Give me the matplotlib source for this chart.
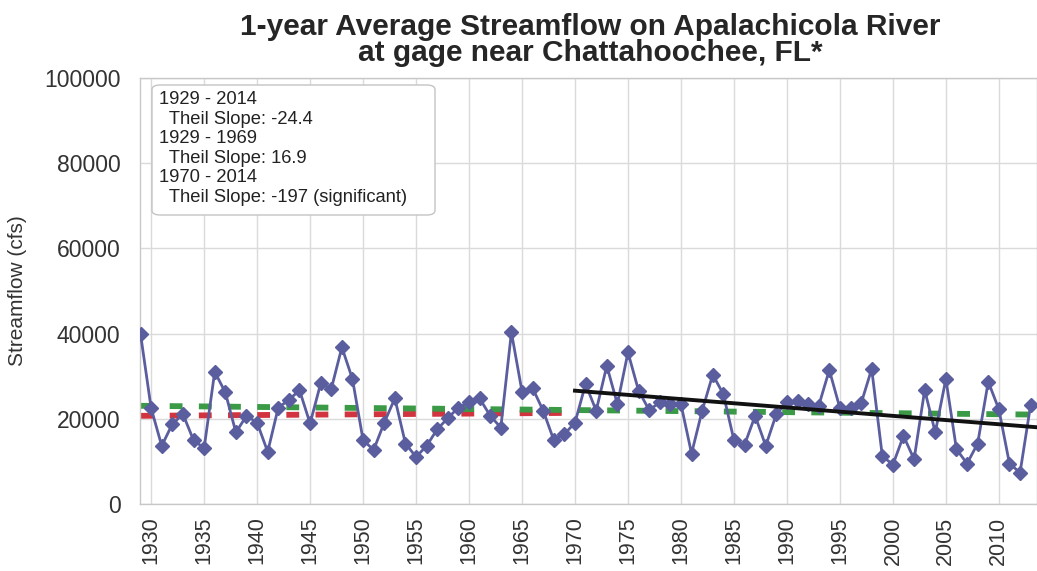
import matplotlib
matplotlib.use("Agg")
import matplotlib.pyplot as plt
from matplotlib.patches import FancyBboxPatch
import numpy as np

plt.rcParams['font.family'] = ['Liberation Sans', 'DejaVu Sans']

# Annual mean streamflow (cfs), 1929-2013
years = list(range(1929, 2014))
flow = [
    39900, 22500, 13650, 18750, 21100, 15000, 13100, 31050, 26200, 16800,
    20700, 19100, 12250, 22650, 24400, 26750, 18900, 28300, 27000, 36800,
    29350, 15000, 12700, 19100, 24800, 14200, 11050, 13650, 17550, 20150,
    22650, 23850, 24800, 20700, 17950, 40300, 26400, 27200, 21900, 15000,
    16400, 19100, 28150, 21900, 32450, 23450, 35600, 26600, 22050, 23850,
    23450, 23450, 11850, 21900, 30350, 25800, 15000, 13900, 20700, 13650,
    21100, 23850, 24250, 23450, 23050, 31450, 22500, 22500, 23600, 31700,
    11300, 9200, 16000, 10500, 26750, 16800, 29350, 12850, 9500, 14200,
    28700, 22250, 9500, 7350, 23300,
]

# Theil-Sen trend lines: (start year, end year, value at start, slope per year)
trend_all = (1929, 2014, 23050, -24.4)
trend_early = (1929, 1969, 20700, 16.9)
trend_late = (1970, 2014, 26600, -197.0)

legend_lines = [
    "1929 - 2014",
    "  Theil Slope: -24.4",
    "1929 - 1969",
    "  Theil Slope: 16.9",
    "1970 - 2014",
    "  Theil Slope: -197 (significant)",
]

title = "1-year Average Streamflow on Apalachicola River\nat gage near Chattahoochee, FL*"
xticks = list(range(1930, 2011, 5))
yticks = list(range(0, 100001, 20000))

W, H = 1037, 571
fig = plt.figure(figsize=(W / 100, H / 100), dpi=100)
ax = fig.add_axes([140 / W, (H - 504) / H, (W - 140) / W, (504 - 78) / H])


def trend_xy(t):
    y0, y1, v0, s = t
    xs = np.array([y0, y1], dtype=float)
    return xs, v0 + s * (xs - y0)


grid_c = '#dadada'
ax.set_xticks(xticks)
ax.set_yticks(yticks)
ax.grid(True, color=grid_c, linewidth=1.0)
ax.set_axisbelow(True)

xs, ys = trend_xy(trend_early)
ax.plot(xs, ys, color='#d2343f', linewidth=4.2, linestyle=(0, (2.2, 2.8)),
        zorder=2)
xs, ys = trend_xy(trend_all)
ax.plot(xs, ys, color='#3a9a45', linewidth=4.2, linestyle=(0, (2.2, 2.8)),
        zorder=2.1)

ax.plot(years, flow, color='#5a5d9e', linewidth=2.0, marker='D',
        markersize=7.5, markerfacecolor='#5a5d9e', markeredgecolor='#5a5d9e',
        zorder=3)

xs, ys = trend_xy(trend_late)
ax.plot(xs, ys, color='#111111', linewidth=2.8, zorder=4)

ax.set_xlim(1928.95, 2013.6)
ax.set_ylim(0, 100000)

for s in ax.spines.values():
    s.set_color('#c8c8c8')
    s.set_linewidth(1.0)

ax.tick_params(axis='y', length=0, colors='#333333', labelsize=16.5, pad=14)
ax.tick_params(axis='x', length=0, colors='#333333', labelsize=15.5, pad=9)
for lab in ax.get_xticklabels():
    lab.set_rotation(90)

ax.set_ylabel("Streamflow (cfs)", fontsize=15, color='#333333', labelpad=12)

fig.text(0.569, 0.977, title, ha='center', va='top', fontsize=21.5,
         fontweight='bold', color='#262626', linespacing=0.92)

# Annotation box with the slope summary
bx0, by0, bx1, by1 = 152, 85, 435, 215
box = FancyBboxPatch((bx0 / W, 1 - by1 / H), (bx1 - bx0) / W, (by1 - by0) / H,
                     boxstyle='round,pad=0,rounding_size=0.008',
                     transform=fig.transFigure, facecolor='white',
                     edgecolor='#c4c4c4', linewidth=1.0, zorder=5)
fig.patches.append(box)
fig.text((bx0 + 7) / W, 1 - (by0 + 6) / H, "\n".join(legend_lines),
         ha='left', va='top', fontsize=13.2, color='#222222',
         linespacing=1.2, zorder=6)

fig.savefig("out.png", dpi=100)
